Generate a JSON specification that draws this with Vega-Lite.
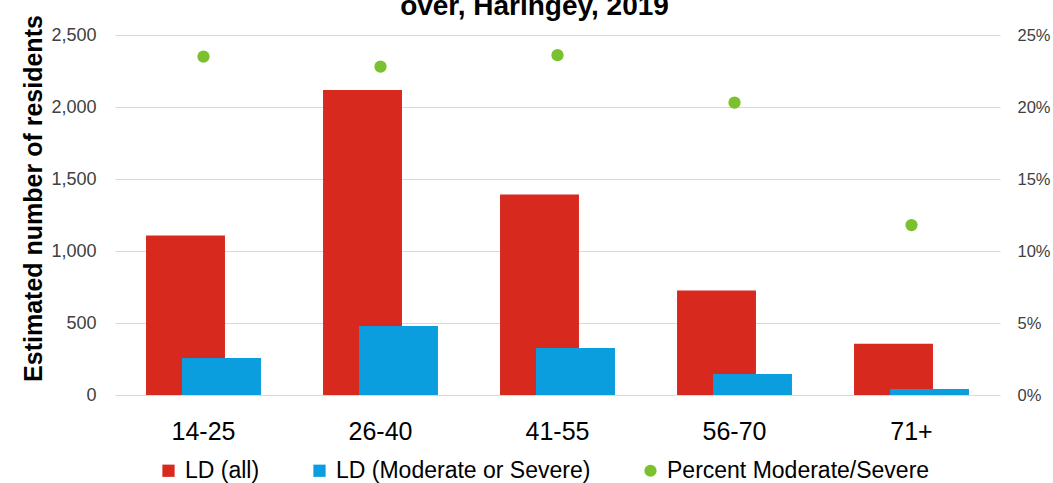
{
  "$schema": "https://vega.github.io/schema/vega-lite/v6.json",
  "autosize": {"type": "none"},
  "width": 885,
  "height": 360,
  "padding": {"left": 115, "top": 35, "right": 53, "bottom": 88},
  "background": "white",
  "config": {
    "font": "Liberation Sans",
    "view": {"stroke": null}
  },
  "title": {
    "text": "over, Haringey, 2019",
    "fontSize": 28,
    "fontWeight": "bold",
    "color": "#000000",
    "anchor": "middle",
    "baseline": "alphabetic",
    "offset": 5,
    "dx": -23,
    "dy": 33
  },
  "data": {
    "values": [
      {"age": "14-25", "all": 1108, "mod": 257, "pct": 0.235},
      {"age": "26-40", "all": 2118, "mod": 479, "pct": 0.228},
      {"age": "41-55", "all": 1392, "mod": 327, "pct": 0.236},
      {"age": "56-70", "all": 725, "mod": 146, "pct": 0.203},
      {"age": "71+", "all": 356, "mod": 42, "pct": 0.118}
    ]
  },
  "encoding": {
    "x": {
      "field": "age",
      "type": "nominal",
      "sort": null,
      "scale": {"paddingInner": 0, "paddingOuter": 0},
      "axis": {
        "title": null,
        "labelAngle": 0,
        "labelFontSize": 25,
        "labelColor": "#000000",
        "labelPadding": 24,
        "ticks": false,
        "domain": false,
        "grid": false
      }
    }
  },
  "layer": [
    {
      "layer": [
        {
          "mark": {"type": "bar", "width": {"band": 0.446}, "xOffset": -18},
          "encoding": {
            "y": {
              "field": "all",
              "type": "quantitative",
              "scale": {"domain": [0, 2500], "nice": false},
              "axis": {
                "title": "Estimated number of residents",
                "titleFontSize": 25,
                "titleFontWeight": "bold",
                "titleColor": "#000000",
                "titlePadding": 4,
                "titleY": 163,
                "values": [0, 500, 1000, 1500, 2000, 2500],
                "format": ",.0f",
                "labelFontSize": 18,
                "labelColor": "#404040",
                "labelPadding": 19,
                "ticks": false,
                "domain": false,
                "gridColor": "#d9d9d9",
                "gridWidth": 1
              }
            },
            "color": {
              "datum": "LD (all)",
              "scale": {
                "domain": ["LD (all)", "LD (Moderate or Severe)", "Percent Moderate/Severe"],
                "range": ["#D8291E", "#0A9EDF", "#7BC12F"]
              },
              "legend": {
                "title": null,
                "orient": "none",
                "direction": "horizontal",
                "legendX": 42,
                "legendY": 424,
                "labelFontSize": 23,
                "labelColor": "#000000",
                "labelOffset": 5,
                "labelLimit": 500,
                "columnPadding": 48,
                "symbolSize": 150,
                "symbolType": "square",
                "symbolStrokeWidth": 0,
                "symbolOpacity": 1,
                "encode": {
                  "symbols": {
                    "update": {
                      "shape": {"signal": "datum.value === 'Percent Moderate/Severe' ? 'circle' : 'square'"}
                    }
                  }
                }
              }
            }
          }
        },
        {
          "mark": {"type": "bar", "width": {"band": 0.446}, "xOffset": 18},
          "encoding": {
            "y": {"field": "mod", "type": "quantitative"},
            "color": {"datum": "LD (Moderate or Severe)"}
          }
        }
      ]
    },
    {
      "mark": {"type": "point", "filled": true, "size": 150, "opacity": 1},
      "encoding": {
        "y": {
          "field": "pct",
          "type": "quantitative",
          "scale": {"domain": [0, 0.25], "nice": false},
          "axis": {
            "orient": "right",
            "title": null,
            "values": [0, 0.05, 0.1, 0.15, 0.2, 0.25],
            "format": ".0%",
            "labelFontSize": 16.5,
            "labelColor": "#404040",
            "labelPadding": 17,
            "ticks": false,
            "domain": false,
            "grid": false
          }
        },
        "color": {"datum": "Percent Moderate/Severe"}
      }
    }
  ],
  "resolve": {"scale": {"y": "independent"}}
}
